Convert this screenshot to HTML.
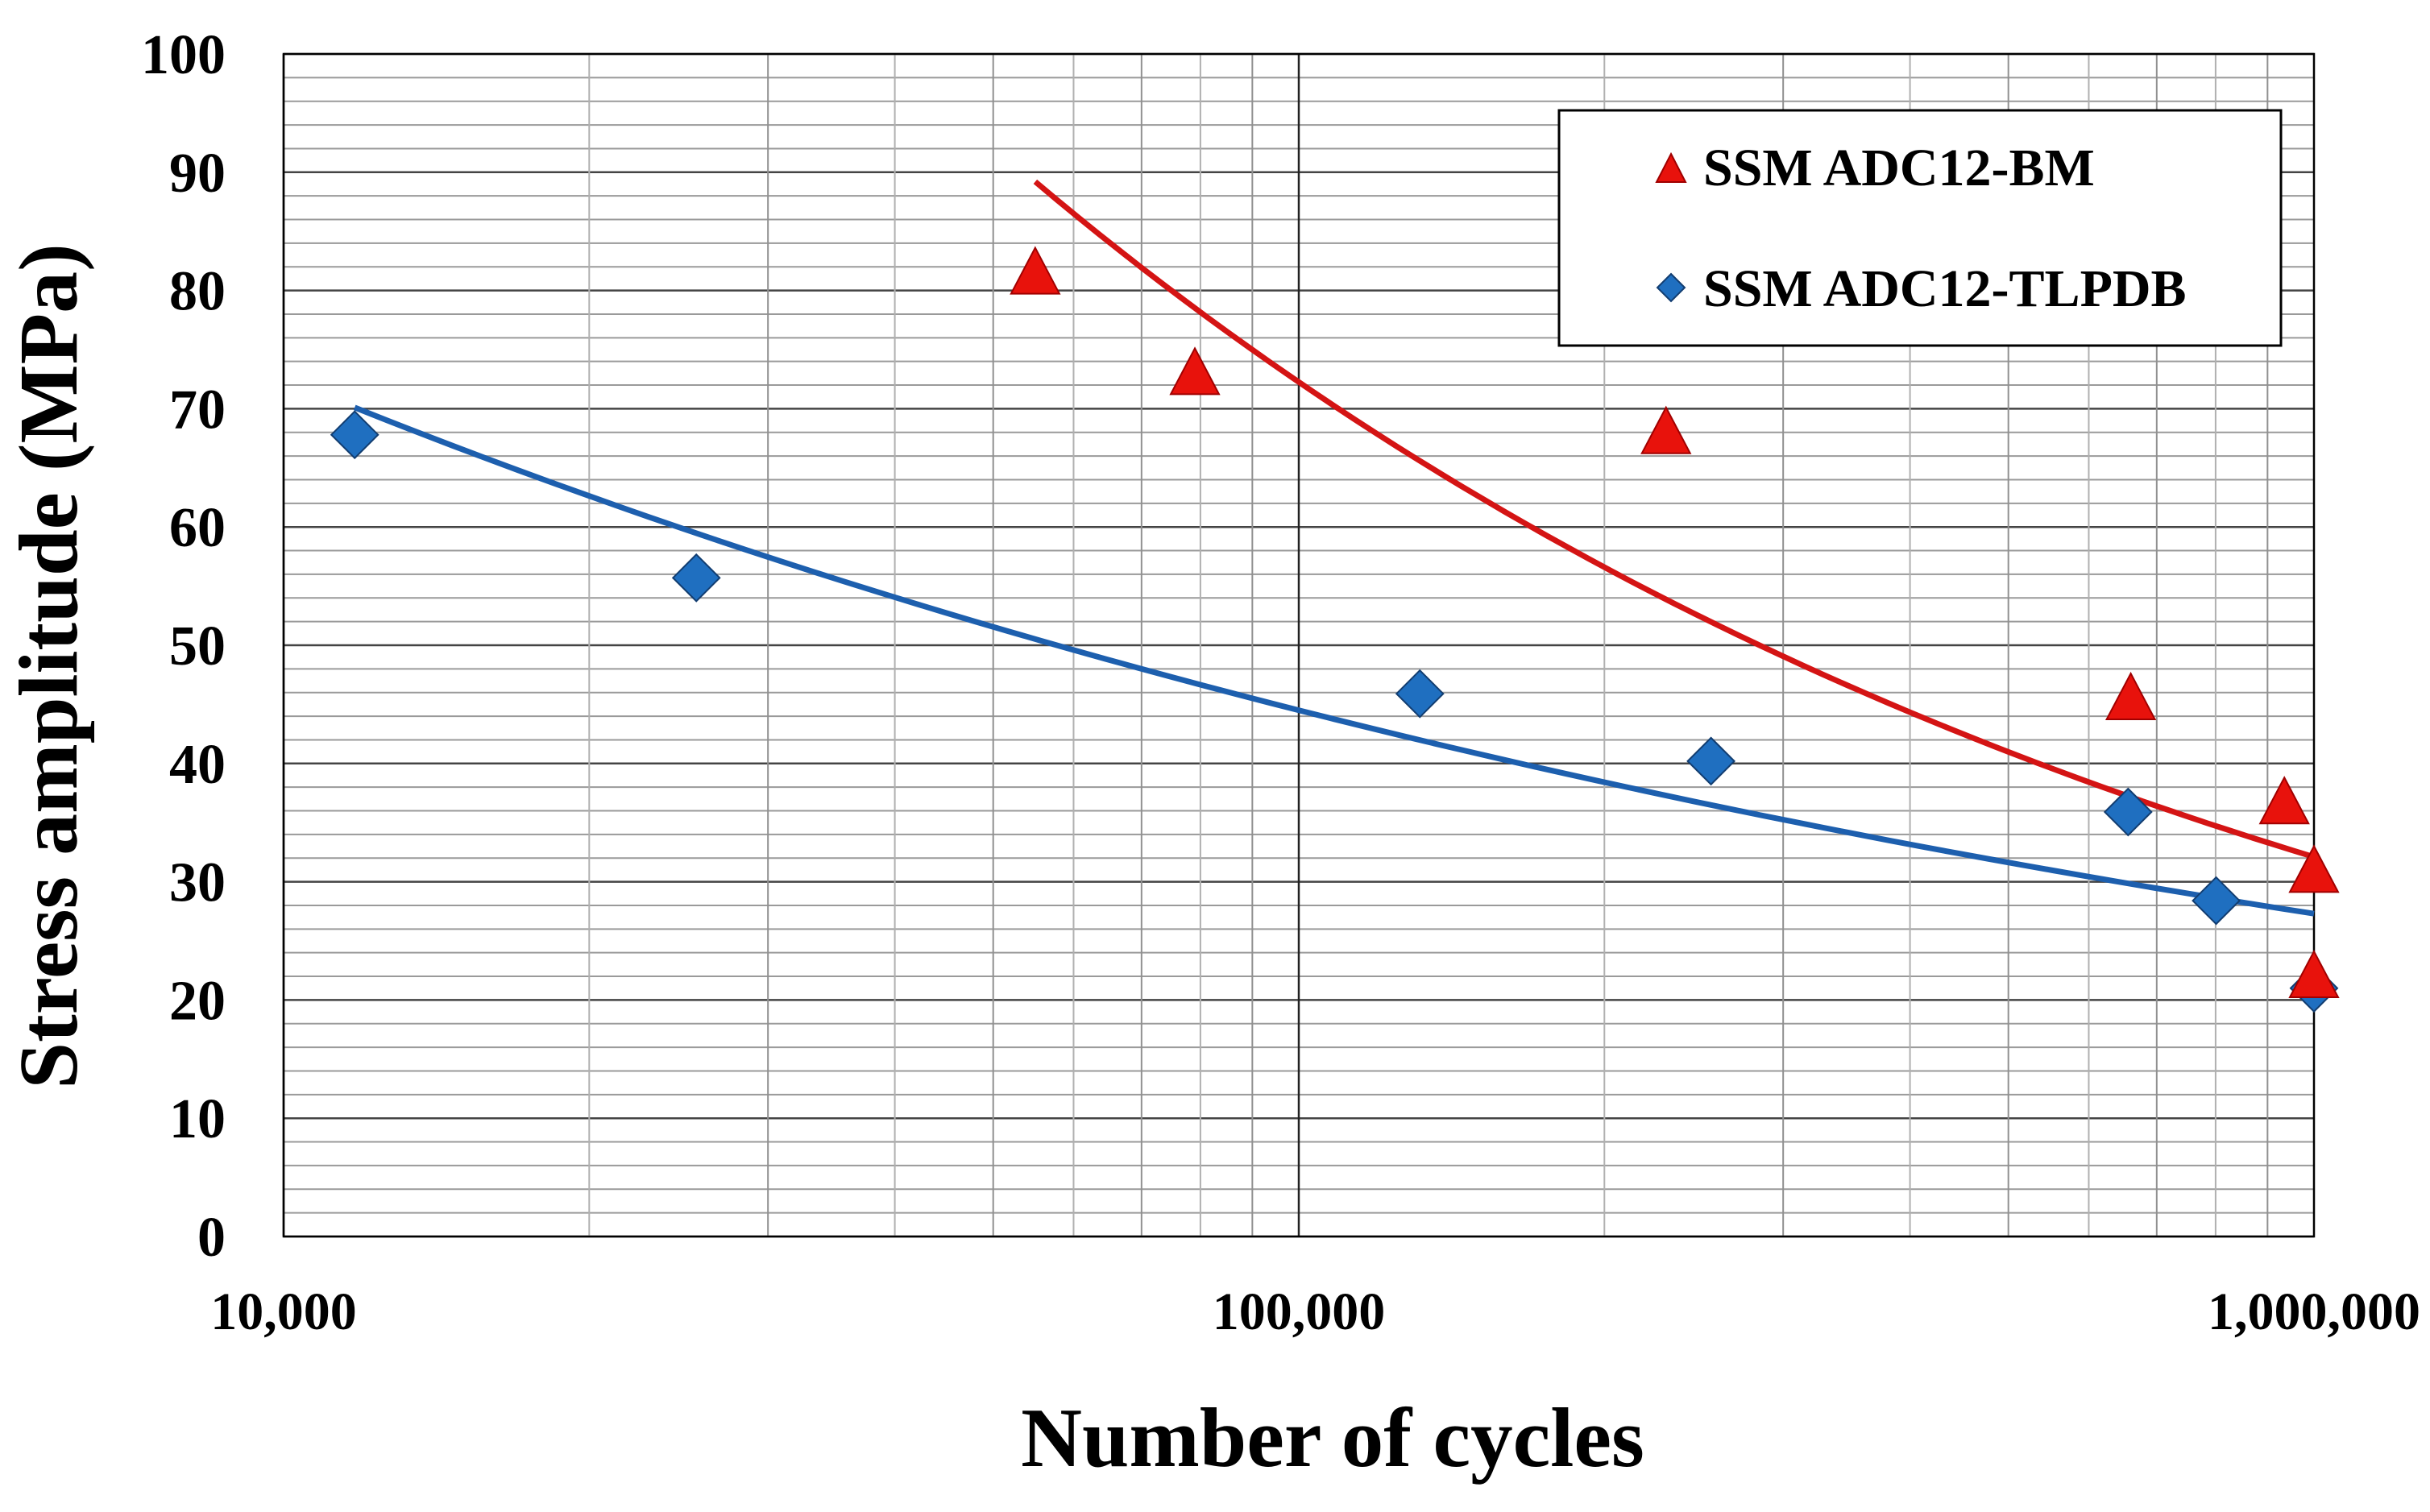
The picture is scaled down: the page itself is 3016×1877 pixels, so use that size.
<!DOCTYPE html>
<html><head><meta charset="utf-8"><style>
html,body{margin:0;padding:0;background:#fff}
svg{display:block}
text{font-family:"Liberation Serif",serif;font-weight:bold;fill:#000}
</style></head><body>
<svg id="chart" width="3016" height="1877" viewBox="0 0 3016 1877" xmlns="http://www.w3.org/2000/svg">
<g id="grid"></g>
<rect x="352" y="67" width="2520" height="1468" fill="none" stroke="#000" stroke-width="2.5"/>
<g id="ticks"></g>
<g id="lines"></g>
<g id="marks"></g>
<text x="1654" y="1820" font-size="105" text-anchor="middle">Number of cycles</text>
<text transform="translate(95,827) rotate(-90)" font-size="104" text-anchor="middle">Stress amplitude (MPa)</text>
<g>
<rect x="1935" y="137" width="896" height="292" fill="#fff" stroke="#000" stroke-width="3"/>
<polygon points="2074,191 2092,226 2056,226" fill="#e8120c" stroke="#a00000" stroke-width="2"/>
<text x="2114" y="230" font-size="66">SSM ADC12-BM</text>
<polygon points="2074,340 2091,357 2074,374 2057,357" fill="#1f6fc0" stroke="#123d70" stroke-width="2"/>
<text x="2114" y="380" font-size="66">SSM ADC12-TLPDB</text>
</g>
</svg>
<script>
const yTicks=[0,10,20,30,40,50,60,70,80,90,100];
const xTickValues=[10000,100000,1000000];
const xTickLabels=["10,000","100,000","1,000,000"];
const bmCycles=[55000,79000,230000,660000,935000,1000000,1000000];
const bmStress=[81.5,73,68,45.5,36.7,30.9,22];
const tlCycles=[11750,25500,131600,254700,656000,801000,1000000];
const tlStress=[67.8,55.7,45.9,40.2,35.9,28.4,21];
const bmTrendX=[55000,1000000];
const bmTrendY=[89.2,32.1];
const tlTrendX=[11750,1000000];
const tlTrendY=[70.1,27.3];

const NS="http://www.w3.org/2000/svg";
const L=352,R=2872,T=67,B=1535;
function xs(v){return L+(Math.log10(v)-4)/2*(R-L);}
function ys(v){return B-v/100*(B-T);}
function mk(tag,attrs,parent){const e=document.createElementNS(NS,tag);for(const k in attrs)e.setAttribute(k,attrs[k]);parent.appendChild(e);return e;}
const grid=document.getElementById('grid'),ticks=document.getElementById('ticks'),lines=document.getElementById('lines'),marks=document.getElementById('marks');
for(let v=0;v<=100;v+=2){
  const g=mk('line',{x1:L,x2:R,y1:ys(v),y2:ys(v),stroke:v%10===0?'#444':'#9a9a9a','stroke-width':v%10===0?2.5:2},grid);
  
  
}
for(let d=4;d<6;d++){for(let m=1;m<10;m++){
  const v=m*Math.pow(10,d);const x=xs(v);
  const g=mk('line',{x1:x,x2:x,y1:T,y2:B,stroke:m===1?'#222':(m%2===0?'#b0b0b0':'#909090'),'stroke-width':m===1?2.5:2},grid);
  
  
}}
yTicks.forEach(v=>{
  const t=mk('text',{x:280,y:ys(v)+24,'font-size':70,'text-anchor':'end'},ticks);t.textContent=v;
  
  
});
xTickValues.forEach((v,i)=>{
  const t=mk('text',{x:xs(v),y:1650,'font-size':66,'text-anchor':'middle'},ticks);t.textContent=xTickLabels[i];
  
  
});
function trend(xa,ya,color,name){
  const b=Math.log(ya[1]/ya[0])/Math.log(xa[1]/xa[0]);
  let d='';const n=60;
  for(let i=0;i<=n;i++){const lx=Math.log10(xa[0])+(Math.log10(xa[1])-Math.log10(xa[0]))*i/n;const x=Math.pow(10,lx);const y=ya[0]*Math.pow(x/xa[0],b);d+=(i?'L':'M')+xs(x).toFixed(1)+','+ys(y).toFixed(1);}
  const p=mk('path',{d:d,fill:'none',stroke:color,'stroke-width':7},lines);
  
  
}
trend(bmTrendX,bmTrendY,'#d41414','trend-line-bm');
trend(tlTrendX,tlTrendY,'#1d5fae','trend-line-tlpdb');
tlCycles.forEach((c,i)=>{
  const x=xs(c),y=ys(tlStress[i]),r=29;
  const p=mk('polygon',{points:`${x},${y-r} ${x+r},${y} ${x},${y+r} ${x-r},${y}`,fill:'#1f6fc0',stroke:'#123d70','stroke-width':2},marks);
  
  
});
bmCycles.forEach((c,i)=>{
  const x=xs(c),y=ys(bmStress[i]);
  const p=mk('polygon',{points:`${x},${y-31} ${x+30},${y+26} ${x-30},${y+26}`,fill:'#e8120c',stroke:'#a00000','stroke-width':2},marks);
  
  
});
</script>
</body></html>
